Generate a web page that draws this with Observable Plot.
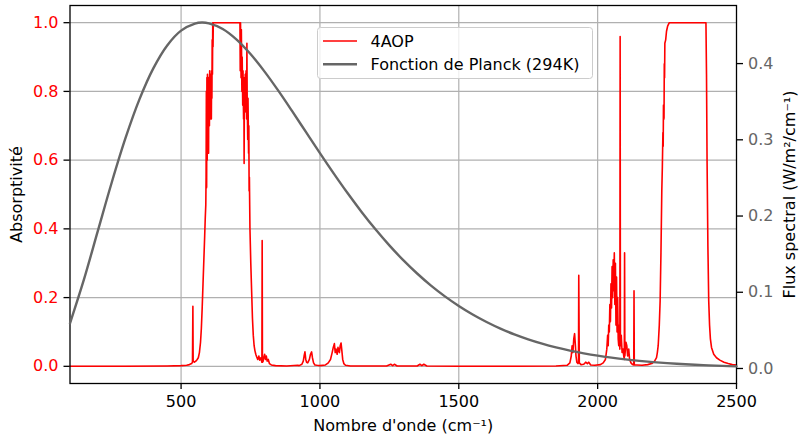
<!DOCTYPE html>
<html><head><meta charset="utf-8">
<script src="https://cdn.jsdelivr.net/npm/d3@7"></script>
<script src="https://cdn.jsdelivr.net/npm/@observablehq/plot@0.6"></script>
<style>
body{margin:0;background:#fff;font-family:"DejaVu Sans",sans-serif;}
#chart{position:relative;width:803px;height:435px;overflow:hidden;}
#chart > svg.layer{position:absolute;left:0;top:0;}
</style>
</head><body>
<div id="chart"></div>
<script>
// ---- data ----
const xTicks = [500, 1000, 1500, 2000, 2500];
const absTicks = [0, 0.2, 0.4, 0.6, 0.8, 1.0];
const fluxTicks = [0, 0.1, 0.2, 0.3, 0.4];
const seriesNames = ["4AOP", "Fonction de Planck (294K)"];

// 4AOP absorptivity (wavenumber, value)
const absWn = [100,300,450,500,520,530,538,541,542.5,543.5,548,553,558,562,566,570,573,576,579,582,585,587,589,
590,591,592,593,594,595,596,598,599,600,602,603,605,606,607,608,609,610,611,612,613,614,615,616,
620,700,712,713,714,716,717,719,720,722,723,725,726,727,728,730,731,733,734,736,737,738,740,741,743,744,745,746,748,751,754,757,760,763,766,769,772,776,780,783,787,790,791,792,793,795,798,801,804,807,810,814,818,825,840,880,920,
925,935,940,943,946,949,952,956,962,966,970,973,977,982,990,1000,1020,1030,1038,1044,1048,1052,1055,1058,1062,1065,1070,1073,1076,1079,1082,1086,1092,1110,1240,1255,1262,1268,1278,1350,1360,1367,1374,1385,1500,1700,1850,1890,
1900,1905,1908,1911,1914,1917,1920,1922,1925,1929,1931,1932,1934,1940,1950,1957,1963,1968,1975,1990,2010,2020,2028,2033,2036,2038,2040,2042,2044,2046,2048,2050,2052,2054,2056,2058,2060,2062,2064,2066,2068,2070,2072,2074,2076,2078,2080,2081,2082,2085,2088,2091,2094,2096,2097,2098,2102,2105,2108,2112,2115,2120,2126,2130,2131,2132,2140,2160,2180,2195,2205,2212,
2215,2218,2222,2225,2228,2231,2233,2235,2236,2237,2239,2240,2241,2242,2245,2248,2252,2258,2390,2392,2394,2397,2400,2403,2406,2410,2418,2428,2440,2455,2470,2485,2500];
const absVal = [0,0,0.001,0.002,0.003,0.005,0.008,0.012,0.175,0.015,0.012,0.015,0.02,0.025,0.04,0.07,0.11,0.17,0.24,0.31,0.38,0.43,0.47,
0.55,0.80,0.52,0.84,0.60,0.85,0.65,0.82,0.62,0.84,0.70,0.86,0.72,0.85,0.74,0.80,0.72,0.86,0.78,0.95,0.85,1.0,0.93,1.0,
1.0,1.0,1.0,0.86,1.0,0.84,0.98,0.80,0.90,0.76,0.86,0.72,0.84,0.59,0.82,0.76,0.85,0.74,0.86,0.72,0.94,0.78,0.66,0.78,0.62,0.70,0.51,0.55,0.40,0.30,0.22,0.14,0.09,0.06,0.045,0.035,0.028,0.02,0.03,0.018,0.025,0.015,0.012,0.366,0.012,0.014,0.025,0.035,0.02,0.03,0.015,0.02,0.008,0.004,0.002,0.001,0.003,
0.002,0.006,0.015,0.03,0.042,0.02,0.012,0.01,0.02,0.035,0.042,0.025,0.01,0.004,0.003,0.002,0.004,0.01,0.02,0.04,0.055,0.066,0.04,0.05,0.035,0.055,0.04,0.06,0.068,0.045,0.02,0.008,0.003,0.001,0.001,0.006,0.002,0.006,0.001,0.001,0.006,0.002,0.006,0.001,0,0,0.001,0.003,
0.01,0.03,0.06,0.04,0.08,0.095,0.06,0.03,0.012,0.008,0.01,0.265,0.01,0.005,0.006,0.012,0.008,0.012,0.004,0.003,0.005,0.01,0.02,0.05,0.09,0.06,0.12,0.10,0.18,0.13,0.24,0.17,0.29,0.20,0.31,0.22,0.33,0.18,0.30,0.12,0.26,0.10,0.20,0.08,0.06,0.12,0.05,0.96,0.06,0.09,0.04,0.05,0.03,0.02,0.33,0.03,0.07,0.06,0.03,0.05,0.02,0.01,0.005,0.004,0.22,0.004,0.004,0.003,0.005,0.008,0.015,0.025,
0.04,0.06,0.12,0.19,0.33,0.51,0.58,0.68,0.64,0.76,0.72,0.88,0.84,0.94,0.95,0.975,0.99,1.0,1.0,0.85,0.60,0.35,0.19,0.12,0.08,0.055,0.035,0.025,0.018,0.012,0.008,0.005,0.004];

// Planck flux at 294 K (W/m²/cm⁻¹)
const planckWn = [100,150,200,250,300,350,400,450,500,550,575,600,650,700,750,800,850,900,950,1000,1050,1100,1150,1200,1250,1300,1350,1400,1450,1500,1550,1600,1650,1700,1750,1800,1850,1900,1950,2000,2050,2100,2150,2200,2250,2300,2350,2400,2450,2500];
const planckFlux = [0.0593,0.1165,0.1802,0.2437,0.3024,0.3530,0.3937,0.4238,0.4432,0.4525,0.4538,0.4528,0.4454,0.4315,0.4125,0.3898,0.3645,0.3376,0.3100,0.2825,0.2556,0.2298,0.2054,0.1826,0.1615,0.1421,0.1246,0.1087,0.0946,0.0820,0.0708,0.0610,0.0523,0.0448,0.0383,0.0326,0.0277,0.0235,0.0199,0.0168,0.0142,0.0119,0.0100,0.0084,0.0070,0.0059,0.0049,0.0041,0.0034,0.0028];

const xLabel = "Nombre d'onde (cm⁻¹)";
const yLabel = "Absorptivité";
const y2Label = "Flux spectral (W/m²/cm⁻¹)";

// ---- chart ----
const absData = absWn.map((w, i) => ({w, a: absVal[i]}));
const plData = planckWn.map((w, i) => ({w, f: planckFlux[i]}));
const RED = "#ff0000", GREY = "#666666", GRID = "#b0b0b0";
const common = {width: 803, height: 435, marginLeft: 69.5, marginRight: 67, marginTop: 5, marginBottom: 52};
const fontStyle = {fontFamily: "'DejaVu Sans', sans-serif", fontSize: "16px", color: "black", overflow: "visible"};

const p1 = Plot.plot({
  ...common,
  style: {...fontStyle, background: "white"},
  x: {domain: [100, 2500], label: null},
  y: {domain: [-0.05, 1.05], label: null},
  marks: [
    Plot.gridX(xTicks.slice(0, 4), {stroke: GRID, strokeOpacity: 1, strokeWidth: 1.2}),
    Plot.gridY(absTicks, {stroke: GRID, strokeOpacity: 1, strokeWidth: 1.2}),
    Plot.line(absData, {x: "w", y: "a", stroke: RED, strokeWidth: 1.6}),
    Plot.axisX(xTicks, {tickSize: 6, tickPadding: 6.5, tickFormat: d3.format("d"), fontSize: 16, label: null, stroke: "black", fill: "black", strokeWidth: 1.3}),
    Plot.axisY(absTicks, {anchor: "left", tickSize: 6, tickPadding: 5.5, tickFormat: d3.format(".1f"), fontSize: 16, label: null, stroke: "black", fill: RED, strokeWidth: 1.3}),
    Plot.text([xLabel], {frameAnchor: "bottom", lineAnchor: "middle", textAnchor: "middle", dy: 42.5, text: d => d, fontSize: 16, fill: "black"}),
    Plot.text([yLabel], {frameAnchor: "left", lineAnchor: "middle", textAnchor: "middle", dx: -53.5, rotate: -90, text: d => d, fontSize: 16, fill: "black"}),
    Plot.frame({stroke: "black", strokeWidth: 1.3})
  ]
});

const p2 = Plot.plot({
  ...common,
  style: {...fontStyle, background: "transparent"},
  x: {domain: [100, 2500], axis: null},
  y: {domain: [-0.0197, 0.4762], label: null},
  marks: [
    Plot.line(plData, {x: "w", y: "f", stroke: GREY, strokeWidth: 2.4, curve: "catmull-rom"}),
    Plot.axisY(fluxTicks, {anchor: "right", tickSize: 6, tickPadding: 5.5, tickFormat: d3.format(".1f"), fontSize: 16, label: null, stroke: "black", fill: GREY, strokeWidth: 1.3}),
    Plot.text([y2Label], {frameAnchor: "right", lineAnchor: "middle", textAnchor: "middle", dx: 53, rotate: -90, text: d => d, fontSize: 16, fill: "black"})
  ]
});

p1.classList.add("layer");
p2.classList.add("layer");
const chart = document.getElementById("chart");
chart.appendChild(p1);
chart.appendChild(p2);

// legend
const lg = d3.create("svg").attr("width", 277).attr("height", 53)
  .style("position", "absolute").style("left", "317px").style("top", "27px")
  .style("font-family", "'DejaVu Sans', sans-serif").style("font-size", "16px");
lg.append("rect").attr("x", 0.5).attr("y", 0.5).attr("width", 275).attr("height", 51).attr("rx", 3)
  .attr("fill", "white").attr("fill-opacity", 0.8).attr("stroke", "#cccccc");
const legendColors = [RED, GREY], legendWidths = [1.6, 2.4];
seriesNames.forEach((name, i) => {
  const cy = 14 + i * 23.3;
  lg.append("line").attr("x1", 6).attr("x2", 40).attr("y1", cy).attr("y2", cy)
    .attr("stroke", legendColors[i]).attr("stroke-width", legendWidths[i]);
  lg.append("text").attr("x", 53.5).attr("y", cy).attr("dy", "0.36em").attr("fill", "black").text(name);
});
chart.appendChild(lg.node());
</script>
</body></html>
